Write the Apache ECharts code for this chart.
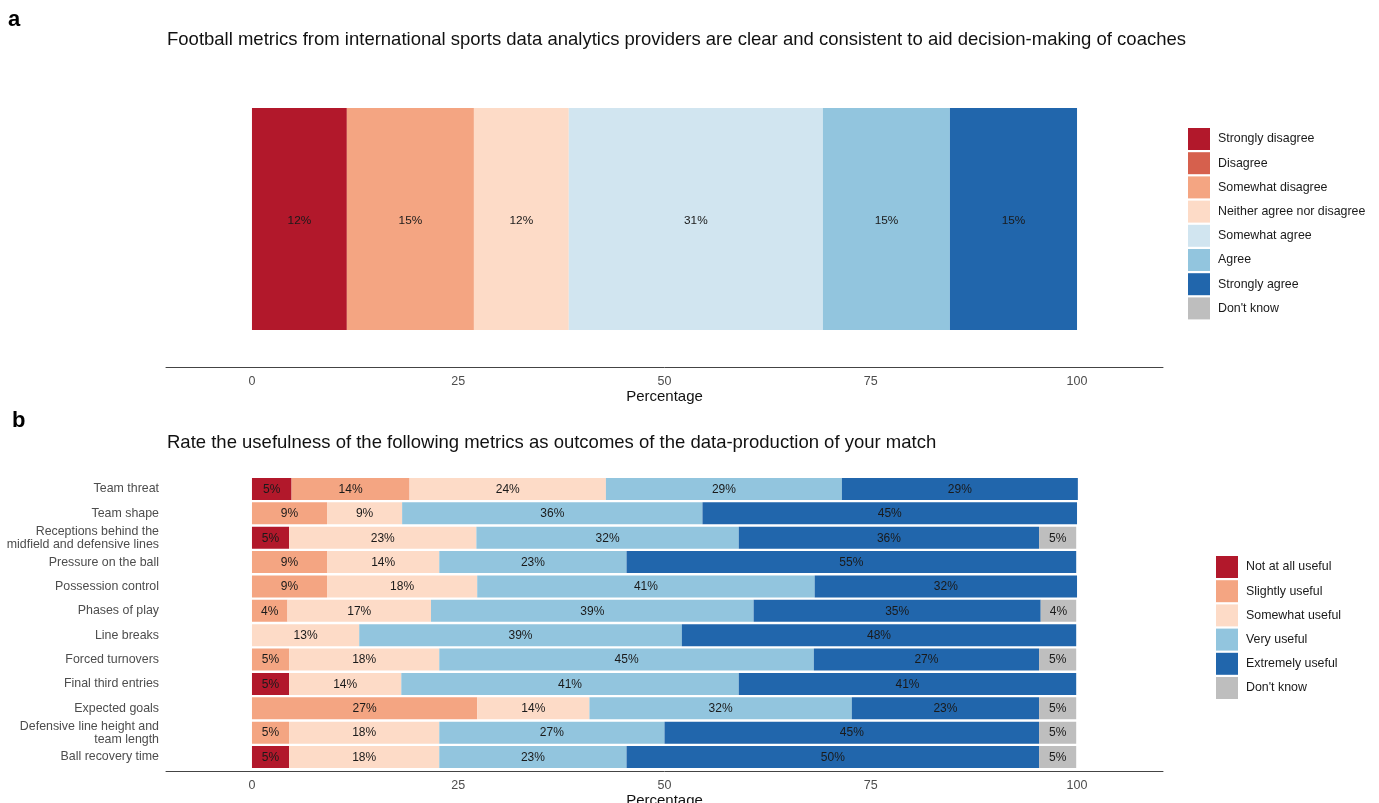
<!DOCTYPE html>
<html>
<head>
<meta charset="utf-8">
<script src="https://cdn.jsdelivr.net/npm/echarts@6/dist/echarts.min.js"></script>
<style>
  html, body { margin: 0; padding: 0; background: #fff; }
  #chart { width: 1379px; height: 803px; }
</style>
</head>
<body>
<div id="chart"></div>
<script>
// ---- Panel a: agreement with one statement (percent of respondents) ----
const agreeLevels = ['Strongly disagree', 'Disagree', 'Somewhat disagree', 'Neither agree nor disagree',
  'Somewhat agree', 'Agree', 'Strongly agree', "Don't know"];
const agreeValues = [11.5, 0, 15.4, 11.5, 30.8, 15.4, 15.4, 0];

// ---- Panel b: usefulness rating per metric (percent of respondents) ----
const metrics = ['Team threat', 'Team shape', 'Receptions behind the\nmidfield and defensive lines',
  'Pressure on the ball', 'Possession control', 'Phases of play', 'Line breaks', 'Forced turnovers',
  'Final third entries', 'Expected goals', 'Defensive line height and\nteam length', 'Ball recovery time'];
const usefulLevels = ['Not at all useful', 'Slightly useful', 'Somewhat useful', 'Very useful',
  'Extremely useful', "Don't know"];
const notAtAllUseful  = [4.8, 0, 4.5, 0, 0, 0, 0, 0, 4.5, 0, 0, 4.5];
const slightlyUseful  = [14.3, 9.1, 0, 9.1, 9.1, 4.3, 0, 4.5, 0, 27.3, 4.5, 0];
const somewhatUseful  = [23.8, 9.1, 22.7, 13.6, 18.2, 17.4, 13.0, 18.2, 13.6, 13.6, 18.2, 18.2];
const veryUseful      = [28.6, 36.4, 31.8, 22.7, 40.9, 39.1, 39.1, 45.4, 40.9, 31.8, 27.3, 22.7];
const extremelyUseful = [28.6, 45.4, 36.4, 54.5, 31.8, 34.8, 47.8, 27.3, 40.9, 22.7, 45.4, 50.0];
const dontKnowUseful  = [0, 0, 4.5, 0, 0, 4.3, 0, 4.5, 0, 4.5, 4.5, 4.5];

const tickValues = [0, 25, 50, 75, 100];

// Diverging red-blue palette, grey for "Don't know"
const agreeColors = ['#B2182B', '#D6604D', '#F4A582', '#FDDBC7', '#D1E5F0', '#92C5DE', '#2166AC', '#BEBEBE'];
const usefulColors = ['#B2182B', '#F4A582', '#FDDBC7', '#92C5DE', '#2166AC', '#BEBEBE'];

const FONT = '"Liberation Sans", Arial, Helvetica, sans-serif';

function pctLabel(size, dy) {
  return {
    show: true,
    position: 'inside',
    offset: [0, dy],
    color: '#1a1a1a',
    fontFamily: FONT,
    fontSize: size,
    formatter: p => (p.value > 0 ? Math.round(p.value) + '%' : '')
  };
}

function percentAxis(gridIndex, offset) {
  return {
    type: 'value',
    gridIndex: gridIndex,
    min: -10.42,
    max: 110.42,
    offset: offset,
    axisLine: { show: true, lineStyle: { color: '#444', width: 1 } },
    axisTick: { show: false },
    splitLine: { show: false },
    axisLabel: {
      customValues: tickValues,
      color: '#4d4d4d',
      fontFamily: FONT,
      fontSize: 12.5,
      margin: 8
    },
    name: 'Percentage',
    nameLocation: 'middle',
    nameGap: 17,
    nameTextStyle: { color: '#111', fontFamily: FONT, fontSize: 15 }
  };
}

const series = [];
agreeLevels.forEach((name, i) => {
  series.push({
    name: name,
    type: 'bar',
    stack: 'agree',
    xAxisIndex: 0,
    yAxisIndex: 0,
    barWidth: 222,
    itemStyle: { color: agreeColors[i] },
    label: pctLabel(11.8, 1.5),
    data: [agreeValues[i]]
  });
});
const usefulData = [notAtAllUseful, slightlyUseful, somewhatUseful, veryUseful, extremelyUseful, dontKnowUseful];
usefulLevels.forEach((name, i) => {
  series.push({
    name: name,
    type: 'bar',
    stack: 'useful',
    xAxisIndex: 1,
    yAxisIndex: 1,
    barWidth: 22,
    itemStyle: { color: usefulColors[i] },
    label: pctLabel(12, 0.5),
    data: usefulData[i]
  });
});

const legendCommon = {
  orient: 'vertical',
  icon: 'rect',
  itemWidth: 22,
  itemHeight: 22,
  itemGap: 2.2,
  padding: 0,
  selectedMode: false,
  textStyle: { color: '#1a1a1a', fontFamily: FONT, fontSize: 12.4, padding: [0, 0, 0, 3] }
};

const titleFont = { fontFamily: FONT, fontWeight: 'normal', fontSize: 18.5, color: '#111' };
const letterFont = { fontFamily: FONT, fontWeight: 'bold', fontSize: 22, color: '#000' };

const option = {
  animation: false,
  backgroundColor: '#fff',
  title: [
    { text: 'a', left: 8, top: 9, padding: 0, textStyle: letterFont },
    { text: 'Football metrics from international sports data analytics providers are clear and consistent to aid decision-making of coaches',
      left: 167, top: 30, padding: 0, textStyle: titleFont },
    { text: 'b', left: 12, top: 410, padding: 0, textStyle: letterFont },
    { text: 'Rate the usefulness of the following metrics as outcomes of the data-production of your match',
      left: 167, top: 433, padding: 0, textStyle: titleFont }
  ],
  legend: [
    Object.assign({ left: 1188, top: 128, data: agreeLevels }, legendCommon),
    Object.assign({ left: 1216, top: 556, data: usefulLevels }, legendCommon)
  ],
  grid: [
    { left: 166, right: 216, top: 71, height: 296, outerBoundsMode: 'none' },
    { left: 166, right: 216, top: 476.8, height: 292.4, outerBoundsMode: 'none' }
  ],
  xAxis: [percentAxis(0, 0), percentAxis(1, 2)],
  yAxis: [
    { type: 'category', gridIndex: 0, data: [''], axisLine: { show: false }, axisTick: { show: false },
      axisLabel: { show: false } },
    { type: 'category', gridIndex: 1, data: metrics, inverse: true,
      axisLine: { show: false }, axisTick: { show: false },
      axisLabel: { color: '#4d4d4d', fontFamily: FONT, fontSize: 12.4, margin: 7, lineHeight: 13,
        padding: [2, 0, 0, 0] } }
  ],
  series: series
};

const chart = echarts.init(document.getElementById('chart'), null, { renderer: 'canvas' });
chart.setOption(option);
</script>
</body>
</html>
